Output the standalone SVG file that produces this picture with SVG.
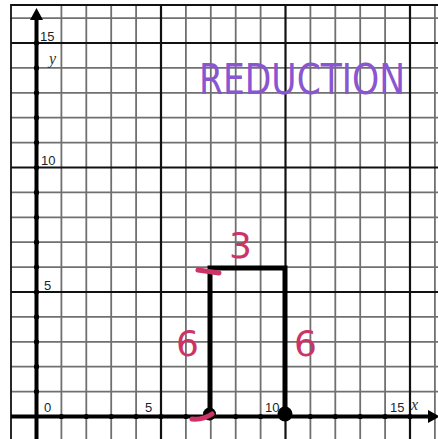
<svg xmlns="http://www.w3.org/2000/svg" width="438" height="439" viewBox="0 0 438 439">
<style>
.g{stroke:#707070;stroke-width:1.8}
.m{stroke:#111;stroke-width:2.2}
.ax{stroke:#000;stroke-width:4}
.num{font-family:"Liberation Sans",Arial,sans-serif;font-size:13px;fill:#1a1f2e}
.var{font-family:"Liberation Serif","Times New Roman",serif;font-style:italic;font-size:16px;fill:#333}
.pink{font-family:"DejaVu Sans",sans-serif;fill:#cc3366}
.pk{stroke:#cc3366;stroke-linecap:round;fill:none}
</style>
<rect width="438" height="439" fill="#fff"/>
<g id="grid">
<g class="g">
<line x1="61.4" y1="5" x2="61.4" y2="439"/>
<line x1="86.3" y1="5" x2="86.3" y2="439"/>
<line x1="111.2" y1="5" x2="111.2" y2="439"/>
<line x1="136.1" y1="5" x2="136.1" y2="439"/>
<line x1="185.9" y1="5" x2="185.9" y2="439"/>
<line x1="210.8" y1="5" x2="210.8" y2="439"/>
<line x1="235.7" y1="5" x2="235.7" y2="439"/>
<line x1="260.6" y1="5" x2="260.6" y2="439"/>
<line x1="310.4" y1="5" x2="310.4" y2="439"/>
<line x1="335.3" y1="5" x2="335.3" y2="439"/>
<line x1="360.2" y1="5" x2="360.2" y2="439"/>
<line x1="385.1" y1="5" x2="385.1" y2="439"/>
<line x1="434.9" y1="5" x2="434.9" y2="439"/>
<line x1="11" y1="391.6" x2="438" y2="391.6"/>
<line x1="11" y1="366.7" x2="438" y2="366.7"/>
<line x1="11" y1="341.8" x2="438" y2="341.8"/>
<line x1="11" y1="316.9" x2="438" y2="316.9"/>
<line x1="11" y1="267.1" x2="438" y2="267.1"/>
<line x1="11" y1="242.2" x2="438" y2="242.2"/>
<line x1="11" y1="217.3" x2="438" y2="217.3"/>
<line x1="11" y1="192.4" x2="438" y2="192.4"/>
<line x1="11" y1="142.6" x2="438" y2="142.6"/>
<line x1="11" y1="117.7" x2="438" y2="117.7"/>
<line x1="11" y1="92.8" x2="438" y2="92.8"/>
<line x1="11" y1="67.9" x2="438" y2="67.9"/>
<line x1="11" y1="18.1" x2="438" y2="18.1"/>
</g>
<g class="m">
<line x1="161" y1="5" x2="161" y2="439"/>
<line x1="285.5" y1="5" x2="285.5" y2="439"/>
<line x1="410" y1="5" x2="410" y2="439"/>
<line x1="11" y1="292" x2="438" y2="292"/>
<line x1="11" y1="167.5" x2="438" y2="167.5"/>
<line x1="11" y1="43" x2="438" y2="43"/>
<path d="M11,439 V5 H438" fill="none" stroke-width="1.8"/>
</g>
</g>
<g id="axes">
<line class="ax" x1="36.5" y1="439" x2="36.5" y2="16"/>
<polygon points="36.5,8 30,20 43,20" fill="#000"/>
<line class="ax" x1="11" y1="416.5" x2="430" y2="416.5"/>
<polygon points="440,416.5 428,410 428,423" fill="#000"/>
<g fill="#000">
<circle cx="36.5" cy="391.6" r="2.6"/><circle cx="36.5" cy="366.7" r="2.6"/><circle cx="36.5" cy="341.8" r="2.6"/><circle cx="36.5" cy="316.9" r="2.6"/><circle cx="36.5" cy="292" r="2.6"/><circle cx="36.5" cy="267.1" r="2.6"/><circle cx="36.5" cy="242.2" r="2.6"/><circle cx="36.5" cy="217.3" r="2.6"/><circle cx="36.5" cy="192.4" r="2.6"/><circle cx="36.5" cy="167.5" r="2.6"/><circle cx="36.5" cy="142.6" r="2.6"/><circle cx="36.5" cy="117.7" r="2.6"/><circle cx="36.5" cy="92.8" r="2.6"/><circle cx="36.5" cy="67.9" r="2.6"/><circle cx="36.5" cy="43" r="2.6"/>
<circle cx="61.4" cy="416.5" r="2.6"/><circle cx="86.3" cy="416.5" r="2.6"/><circle cx="111.2" cy="416.5" r="2.6"/><circle cx="136.1" cy="416.5" r="2.6"/><circle cx="161" cy="416.5" r="2.6"/><circle cx="185.9" cy="416.5" r="2.6"/><circle cx="235.7" cy="416.5" r="2.6"/><circle cx="260.6" cy="416.5" r="2.6"/><circle cx="310.4" cy="416.5" r="2.6"/><circle cx="335.3" cy="416.5" r="2.6"/><circle cx="360.2" cy="416.5" r="2.6"/><circle cx="385.1" cy="416.5" r="2.6"/><circle cx="410" cy="416.5" r="2.6"/>
</g>
<text class="num" x="40" y="41">15</text>
<text class="var" x="49" y="64">y</text>
<text class="num" x="41" y="165">10</text>
<text class="num" x="44" y="290">5</text>
<text class="num" x="44" y="412">0</text>
<text class="num" x="145" y="412">5</text>
<text class="num" x="265" y="412">10</text>
<text class="num" x="390" y="412">15</text>
<text class="var" x="411" y="410">x</text>
</g>
<g id="shape">
<path d="M210,416 V268 H285 V416" fill="none" stroke="#000" stroke-width="5" stroke-linejoin="miter"/>
<circle cx="209.5" cy="414" r="6.5" fill="#000"/>
<circle cx="285" cy="414" r="7.5" fill="#000"/>
</g>
<g id="labels">
<path class="pk" d="M192,419 Q203,420 212,414" stroke-width="5"/>
<path class="pk" d="M198,270 L219,273" stroke-width="5"/>
<text class="pink" x="229" y="258" font-size="36">3</text>
<text class="pink" x="176" y="356" font-size="36">6</text>
<text class="pink" x="294" y="356" font-size="36">6</text>
<text x="199" y="94" font-family="DejaVu Sans, sans-serif" font-size="42" fill="#8a55d0" textLength="206" lengthAdjust="spacingAndGlyphs">REDUCTION</text>
</g>
</svg>
